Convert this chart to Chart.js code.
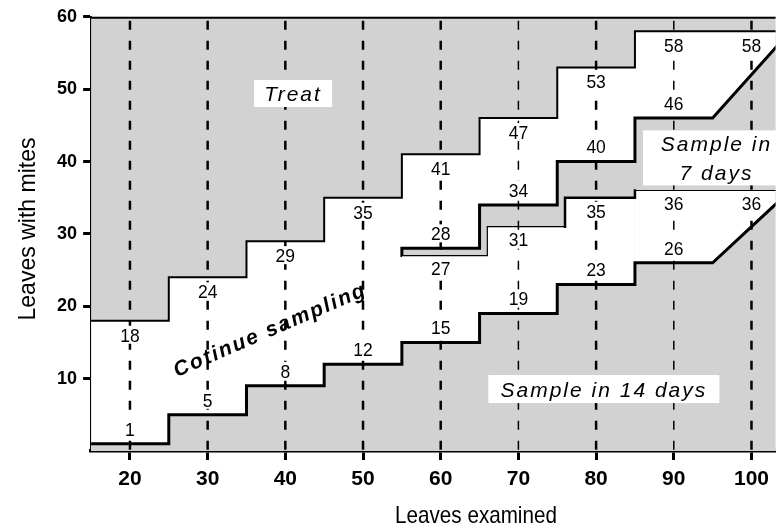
<!DOCTYPE html>
<html><head><meta charset="utf-8">
<script src="https://cdn.jsdelivr.net/npm/chart.js@4.4.1/dist/chart.umd.min.js"></script>
<style>html,body{margin:0;padding:0;background:#fff}#wrap{width:776px;height:529px;position:relative}</style>
</head><body><div id="wrap"><canvas id="c" width="776" height="529"></canvas></div>
<script>
// ---- data ----
const xTicks = [20, 30, 40, 50, 60, 70, 80, 90, 100];
const yTicks = [10, 20, 30, 40, 50, 60];

// "Treat" boundary (upper edge of the white area)
const treatX = [15, 25, 35, 45, 55, 65, 75, 85];
const treatY = [18, 24, 29, 35, 41, 46, 53, 58];
const treatLabels = [18, 24, 29, 35, 41, 47, 53, 58, 58];

// "Sample in 14 days" boundary (lower edge of the white area)
const lowX = [15, 25, 35, 45, 55, 65, 75, 85];
const lowY = [1, 5, 9, 12, 15, 19, 23, 26];
const lowRampX = [95, 105];
const lowRampY = [26, 36];
const lowLabels = [1, 5, 8, 12, 15, 19, 23, 26];

// "Sample in 7 days" band: upper edge
const bandHighX = [55, 65, 75, 85];
const bandHighY = [28, 34, 40, 46];
const bandHighRampX = [95, 105];
const bandHighRampY = [46, 58];
const bandHighLabels = [28, 34, 40, 46];
const bandHighLabelX = [60, 70, 80, 90];

// "Sample in 7 days" band: lower edge
const bandLowX = [55, 66, 76, 85];
const bandLowY = [27, 31, 35, 36];
const bandLowLabels = [27, 31, 35, 36, 36];
const bandLowLabelX = [60, 70, 80, 90, 100];

// ---- helpers ----
const GRAY = '#d2d2d2';
const X_MIN = 15, X_MAX = 103.1, X_END = 105;
function stepPoints(xs, ys, endX) {
  const pts = [];
  for (let i = 0; i < xs.length; i++) {
    const x1 = i + 1 < xs.length ? xs[i + 1] : endX;
    pts.push({x: xs[i], y: ys[i]}, {x: x1, y: ys[i]});
  }
  return pts;
}
function stepValue(xs, ys, x) {
  let v = ys[0];
  for (let i = 0; i < xs.length; i++) if (xs[i] <= x) v = ys[i];
  return v;
}

const treatPts = stepPoints(treatX, treatY, X_END);
const lowPts = stepPoints(lowX, lowY, lowRampX[0]).concat([{x: lowRampX[1], y: lowRampY[1]}]);
const highPts = [{x: bandHighX[0], y: bandLowY[0]}]
  .concat(stepPoints(bandHighX, bandHighY, bandHighRampX[0]))
  .concat([{x: bandHighRampX[1], y: bandHighRampY[1]}]);
const bandLowPts = stepPoints(bandLowX, bandLowY, X_END);

const dashWidths = [2.5, 2.5, 2.5, 2.5, 2.5, 1.5, 2.5, 1.5, 2.5];
const dashSets = xTicks.map((t, i) => ({
  data: [{x: t, y: 60}, {x: t, y: 0}],
  borderColor: '#000', borderWidth: dashWidths[i], borderDash: [9, 11], borderDashOffset: 16,
  pointRadius: 0, fill: false, borderCapStyle: 'butt'
}));

const base = {pointRadius: 0, tension: 0, borderColor: '#000', borderJoinStyle: 'miter', borderCapStyle: 'square'};
const datasets = [
  Object.assign({}, base, {data: [{x: X_MIN, y: 60}, {x: X_END, y: 60}], borderWidth: 4, fill: false}),
  ...dashSets,
  Object.assign({}, base, {data: lowPts, borderWidth: 3, fill: 'origin', backgroundColor: GRAY}),
  Object.assign({}, base, {data: bandLowPts, borderWidth: 1.2, fill: 'origin', backgroundColor: '#fff',
    segment: {borderWidth: c => (c.p0.parsed.x >= 76 && c.p1.parsed.x <= 85) ? 2.5 : 1.2}}),
  Object.assign({}, base, {data: highPts, borderWidth: 3, fill: 'origin', backgroundColor: GRAY}),
  Object.assign({}, base, {data: treatPts, borderWidth: 2, fill: 'origin', backgroundColor: '#fff'})
];

const numberSets = [
  {xs: xTicks, texts: treatLabels, lx: treatX, ly: treatY, dy: 14},
  {xs: xTicks.slice(0, 8), texts: lowLabels, lx: lowX, ly: lowY, dy: -15},
  {xs: bandHighLabelX, texts: bandHighLabels, lx: bandHighX, ly: bandHighY, dy: -15},
  {xs: bandLowLabelX, texts: bandLowLabels, lx: bandLowX, ly: bandLowY, dy: 13}
];

const notes = [
  {lines: ['Treat'], x: 41, y: 49.4, w: 78, h: 27},
  {lines: ['Sample in 14 days'], x: 81, y: 8.56, w: 231, h: 28},
  {lines: ['Sample in', '7 days'], x: 95.5, y: 40.5, w: 147, h: 55}
];

const bgPlugin = {
  id: 'bg',
  beforeDatasetsDraw(chart) {
    const {ctx, chartArea: a} = chart;
    ctx.save(); ctx.fillStyle = GRAY; ctx.fillRect(a.left, a.top, a.right - a.left, a.bottom - a.top); ctx.restore();
  }
};

const textPlugin = {
  id: 'texts',
  afterDatasetsDraw(chart) {
    const {ctx, scales: {x, y}} = chart;
    ctx.save();
    // numbers
    const fs = 19, sx = 0.92;
    ctx.font = fs + 'px "Liberation Sans", Arial, sans-serif';
    ctx.textAlign = 'center'; ctx.textBaseline = 'alphabetic';
    for (const s of numberSets) {
      s.xs.forEach((xv, i) => {
        const px = x.getPixelForValue(xv);
        const py = y.getPixelForValue(stepValue(s.lx, s.ly, xv)) + s.dy;
        const t = String(s.texts[i]);
        const w = ctx.measureText(t).width * sx;
        ctx.fillStyle = '#fff'; ctx.fillRect(px - w / 2 - 2, py - 9, w + 4, 18);
        ctx.fillStyle = '#000';
        ctx.save(); ctx.translate(px, py + fs * 0.716 / 2); ctx.scale(sx, 1); ctx.fillText(t, 0, 0); ctx.restore();
      });
    }
    // boxed notes
    ctx.font = 'italic 21px "Liberation Sans", Arial, sans-serif';
    ctx.letterSpacing = '2px';
    for (const n of notes) {
      const px = x.getPixelForValue(n.x), py = y.getPixelForValue(n.y);
      ctx.fillStyle = '#fff'; ctx.fillRect(px - n.w / 2, py - n.h / 2, n.w, n.h);
      ctx.fillStyle = '#000';
      const lh = 29;
      n.lines.forEach((l, i) => {
        const cy = py + (i - (n.lines.length - 1) / 2) * lh;
        ctx.fillText(l, px, cy + 21 * 0.716 / 2);
      });
    }
    // rotated note
    const cx = x.getPixelForValue(38), cy = y.getPixelForValue(16.8);
    ctx.save(); ctx.translate(cx, cy); ctx.rotate(-23.4 * Math.PI / 180);
    ctx.font = 'italic bold 21px "Liberation Sans", Arial, sans-serif';
    ctx.fillText('Cotinue sampling', 0, 7);
    ctx.restore();
    ctx.letterSpacing = '0px';
    ctx.restore();
  },
  afterDraw(chart) {
    const {ctx} = chart;
    ctx.save();
    ctx.fillStyle = '#000';
    ctx.font = '24px "Liberation Sans", Arial, sans-serif';
    ctx.textAlign = 'center'; ctx.textBaseline = 'middle';
    ctx.save(); ctx.translate(476, 516); ctx.scale(0.86, 1); ctx.fillText('Leaves examined', 0, 0); ctx.restore();
    ctx.save(); ctx.translate(28, 229); ctx.rotate(-Math.PI / 2); ctx.scale(0.96, 1); ctx.fillText('Leaves with mites', 0, 0); ctx.restore();
    ctx.restore();
  }
};

new Chart(document.getElementById('c'), {
  type: 'line',
  data: {datasets},
  options: {
    responsive: false, animation: false, devicePixelRatio: 1,
    layout: {padding: {top: 16.7, right: 0, bottom: 0, left: 0}},
    plugins: {legend: {display: false}, tooltip: {enabled: false}, filler: {propagate: false}},
    scales: {
      x: {
        type: 'linear', min: X_MIN, max: X_MAX, z: 1,
        afterBuildTicks: s => { s.ticks = xTicks.map(v => ({value: v})); },
        afterFit: s => { s.height = 78; },
        grid: {drawOnChartArea: false, drawTicks: true, tickLength: 9, tickWidth: 3, tickColor: '#000'},
        border: {display: true, width: 3.5, color: '#000'},
        ticks: {color: '#000', font: {family: '"Liberation Sans", Arial, sans-serif', size: 21, weight: 'bold'}, padding: 7, maxRotation: 0, autoSkip: false}
      },
      y: {
        type: 'linear', min: 0, max: 60, z: 1,
        afterBuildTicks: s => { s.ticks = yTicks.map(v => ({value: v})); },
        afterFit: s => { s.width = 91.1; },
        grid: {drawOnChartArea: false, drawTicks: true, tickLength: 8, tickWidth: 3, tickColor: '#000'},
        border: {display: true, width: 2, color: '#000'},
        ticks: {color: '#000', font: {family: '"Liberation Sans", Arial, sans-serif', size: 18, weight: 'bold'}, padding: 6, autoSkip: false}
      }
    }
  },
  plugins: [bgPlugin, textPlugin]
});
</script>
</body></html>
